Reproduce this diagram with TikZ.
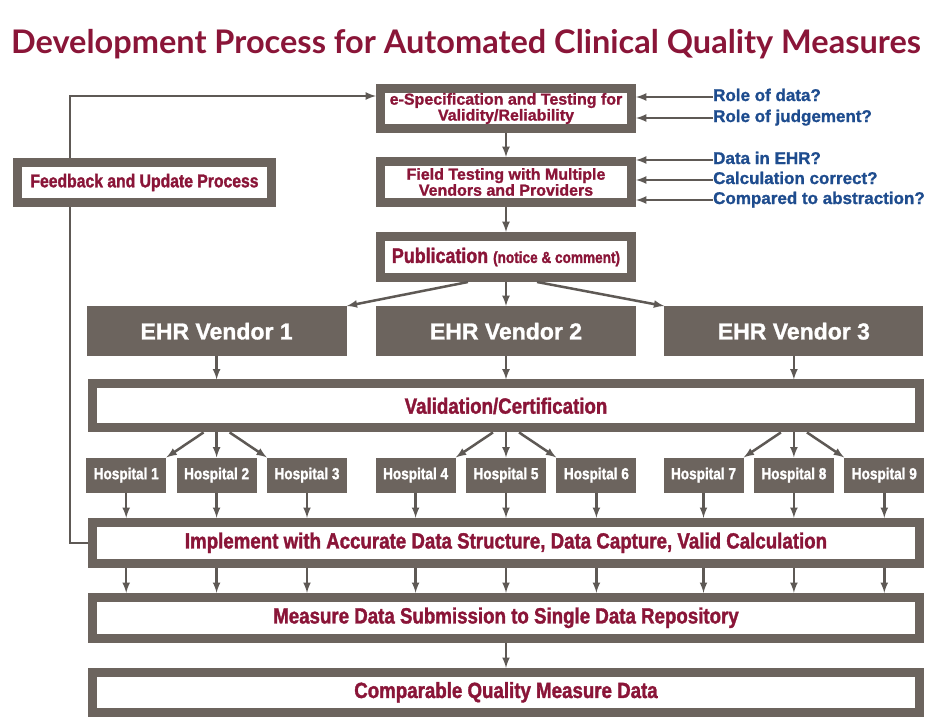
\documentclass[tikz,border=0pt]{standalone}
\usepackage{fontspec}
\setmainfont{Liberation Sans}[BoldFeatures={FakeBold=1.2}]
\newfontfamily\condfont[FakeStretch=0.85, BoldFeatures={FakeBold=1.5}]{Liberation Sans}
\newfontfamily\titlefont{Lato}
\usetikzlibrary{arrows, positioning, calc}
\definecolor{boxgray}{HTML}{6C645E}
\definecolor{arrowgray}{HTML}{5E5955}
\definecolor{crimson}{HTML}{8A1538}
\definecolor{qblue}{HTML}{1E4C8E}
\tikzstyle{arrow} = [->, >=latex, line width=2.5pt, draw=arrowgray]
\tikzstyle{stage} = [rectangle, draw=boxgray, line width=9pt, fill=white, text=crimson, align=center, inner sep=0pt, minimum width=827pt, minimum height=41pt, font=\condfont\bfseries\fontsize{22}{24}\selectfont]
\tikzstyle{smallstage} = [stage, minimum width=251pt, minimum height=41pt, font=\bfseries\fontsize{16}{14}\selectfont]
\tikzstyle{vendor} = [rectangle, fill=boxgray, text=white, minimum width=260pt, minimum height=50pt, inner sep=0pt, font=\bfseries\fontsize{23}{25}\selectfont]
\tikzstyle{hospital} = [rectangle, fill=boxgray, text=white, minimum width=80pt, minimum height=35pt, inner sep=0pt, font=\condfont\bfseries\fontsize{16}{18}\selectfont]
\tikzstyle{question} = [anchor=west, inner sep=0pt, text height=11pt, text depth=3pt, text=qblue, font=\bfseries\fontsize{17}{19}\selectfont]

\begin{document}
\begin{tikzpicture}[x=1pt, y=-1pt]
  \useasboundingbox (0,0) rectangle (930,720);

  % Title
  \node (title) [anchor=base, text=crimson, font=\titlefont\bfseries\fontsize{32.5}{36}\selectfont] at (466,53) {Development Process for Automated Clinical Quality Measures};

  % Measure development
  \node (spec) [smallstage, minimum height=40pt] at (506,108.5) {e-Specification and Testing for\\Validity/Reliability};
  \node (field) [smallstage, below=24pt of spec] {Field Testing with Multiple\\Vendors and Providers};
  \node (pub) [smallstage, below=25pt of field, font=\condfont\bfseries\fontsize{21}{22}\selectfont] {Publication {\fontsize{16}{18}\selectfont (notice \& comment)}};

  % Questions
  \node (qdata) [question] at (713,97) {Role of data?};
  \node (qjudge) [question] at (713,118) {Role of judgement?};
  \node (qehr) [question] at (713,160) {Data in EHR?};
  \node (qcalc) [question] at (713,180) {Calculation correct?};
  \node (qabstr) [question] at (713,200) {Compared to abstraction?};

  % Vendors
  \node (v2) [vendor, below=24pt of pub] {EHR Vendor 2};
  \node (v1) [vendor, left=29pt of v2] {EHR Vendor 1};
  \node (v3) [vendor, right=28pt of v2, minimum width=259pt] {EHR Vendor 3};
  \node (valid) [stage, below=23pt of v2, minimum height=44pt] {Validation/Certification};

  % Hospitals
  \coordinate (c1) at (valid.south -| v1);
  \coordinate (c2) at (valid.south -| v2);
  \coordinate (c3) at (valid.south -| v3);
  \node (h2) [hospital, below=25pt of c1] {Hospital 2};
  \node (h1) [hospital, left=10pt of h2] {Hospital 1};
  \node (h3) [hospital, right=10pt of h2] {Hospital 3};
  \node (h5) [hospital, below=25pt of c2] {Hospital 5};
  \node (h4) [hospital, left=10pt of h5] {Hospital 4};
  \node (h6) [hospital, right=10pt of h5] {Hospital 6};
  \node (h8) [hospital, below=25pt of c3] {Hospital 8};
  \node (h7) [hospital, left=10pt of h8] {Hospital 7};
  \node (h9) [hospital, right=10pt of h8] {Hospital 9};

  % Reporting
  \node (impl) [stage, below=25pt of h5] {Implement with Accurate Data Structure, Data Capture, Valid Calculation};
  \node (measure) [stage, below=25pt of impl] {Measure Data Submission to Single Data Repository};
  \node (comp) [stage, below=25pt of measure, minimum height=40pt] {Comparable Quality Measure Data};

  % Feedback loop (behind the feedback box)
  \coordinate (fbtop) at (70,96);
  \draw[arrow] (impl.west) -| (fbtop) -- (fbtop -| spec.west);
  \node (feedback) [smallstage, minimum width=254pt, minimum height=40pt, font=\condfont\bfseries\fontsize{18.5}{20}\selectfont] at (144.5,182.5) {Feedback and Update Process};

  % Arrows
  \draw[arrow] (spec) -- (field);
  \draw[arrow] (field) -- (pub);
  \foreach \q in {qdata, qjudge} {
    \draw[arrow] (\q.west) -- (\q.west -| spec.east);
  }
  \foreach \q in {qehr, qcalc, qabstr} {
    \draw[arrow] (\q.west) -- (\q.west -| field.east);
  }
  \draw[arrow] ($(pub.south)+(-38,0)$) -- (v1.north east);
  \draw[arrow] (pub.south) -- (v2.north);
  \draw[arrow] ($(pub.south)+(31,0)$) -- (v3.north west);
  \foreach \v in {v1, v2, v3} {
    \draw[arrow] (\v.south) -- (\v.south |- valid.north);
  }
  \foreach \l/\m/\r in {h1/h2/h3, h4/h5/h6, h7/h8/h9} {
    \draw[arrow] ($(valid.south -| \m)+(-13,0)$) -- (\l.north east);
    \draw[arrow] (valid.south -| \m) -- (\m.north);
    \draw[arrow] ($(valid.south -| \m)+(13,0)$) -- (\r.north west);
  }
  \foreach \h in {h1, h2, h3, h4, h5, h6, h7, h8, h9} {
    \draw[arrow] (\h.south) -- (\h.south |- impl.north);
    \draw[arrow] (impl.south -| \h) -- (measure.north -| \h);
  }
  \draw[arrow] (measure) -- (comp);

\end{tikzpicture}
\end{document}
